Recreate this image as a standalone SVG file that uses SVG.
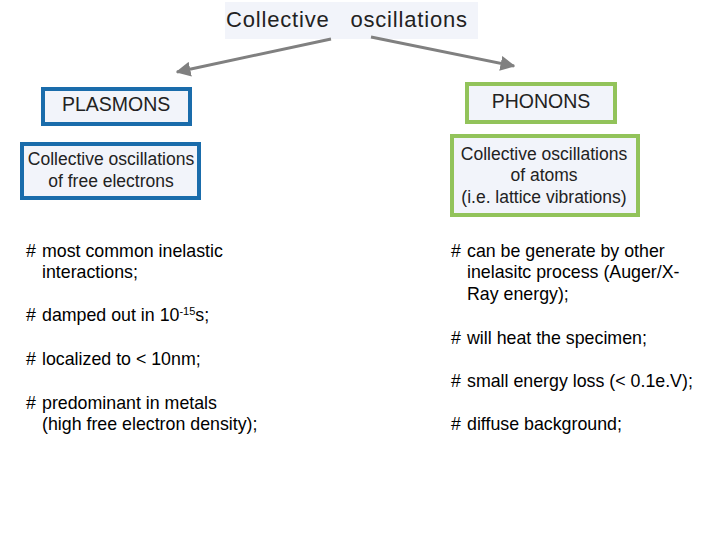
<svg xmlns="http://www.w3.org/2000/svg" width="720" height="540" viewBox="0 0 720 540">
<style>
text{font-family:"Liberation Sans",Arial,sans-serif;fill:#222;font-size:17.5px}
.c{text-anchor:middle}
.box{fill:#f2f4fa}
.bl{fill:#f2f4fa;stroke:#1a6cab;stroke-width:4}
.gr{fill:#f2f4fa;stroke:#92c35a;stroke-width:4}
.b{fill:#000;font-size:17.8px}
.t{font-size:22px}
.h{font-size:19.5px}
.s{font-size:11px}
</style>
<defs><marker id="a" viewBox="0 0 10 10" refX="9" refY="5" markerWidth="5" markerHeight="5" orient="auto"><path d="M0,0L10,5L0,10z" fill="#808080"/></marker></defs>
<g id="title"><rect class="box" x="225" y="2" width="253" height="37"/><text class="t" x="226" y="27" xml:space="preserve" textLength="241">Collective   oscillations</text></g>
<g id="connectors" stroke="#808080" stroke-width="3" fill="none" marker-end="url(#a)">
<line x1="331" y1="39" x2="177" y2="72"/>
<line x1="371" y1="37" x2="514" y2="66"/>
</g>
<g id="plasmons"><rect class="bl" x="43" y="89" width="147" height="35"/><text class="h" x="62" y="111">PLASMONS</text></g>
<g id="phonons"><rect class="gr" x="467" y="84" width="148" height="38"/><text class="c h" x="541" y="108">PHONONS</text></g>
<g id="pdesc"><rect class="bl" x="22" y="144" width="177" height="54"/><text class="c" x="111" y="165">Collective oscillations</text><text class="c" x="111" y="187">of free electrons</text></g>
<g id="hdesc"><rect class="gr" x="452" y="136" width="186" height="79"/><text class="c" x="544" y="160">Collective oscillations</text><text class="c" x="544" y="181">of atoms</text><text class="c" x="544" y="203">(i.e. lattice vibrations)</text></g>
<g id="plist">
<text class="b" x="26" y="257">#</text><text class="b" x="42" y="257">most common inelastic</text><text class="b" x="42" y="278">interactions;</text>
<text class="b" x="26" y="321">#</text><text class="b" x="42" y="321">damped out in 10<tspan class="s" dy="-6">-15</tspan><tspan dy="6">s;</tspan></text>
<text class="b" x="26" y="365">#</text><text class="b" x="42" y="365">localized to &lt; 10nm;</text>
<text class="b" x="26" y="409">#</text><text class="b" x="42" y="409">predominant in metals</text><text class="b" x="42" y="430">(high free electron density);</text>
</g>
<g id="hlist">
<text class="b" x="451" y="257">#</text><text class="b" x="467" y="257">can be generate by other</text><text class="b" x="467" y="278">inelasitc process (Auger/X-</text><text class="b" x="467" y="300">Ray energy);</text>
<text class="b" x="451" y="344">#</text><text class="b" x="467" y="344">will heat the specimen;</text>
<text class="b" x="451" y="387">#</text><text class="b" x="467" y="387">small energy loss (&lt; 0.1e.V);</text>
<text class="b" x="451" y="430">#</text><text class="b" x="467" y="430">diffuse background;</text>
</g>
</svg>
